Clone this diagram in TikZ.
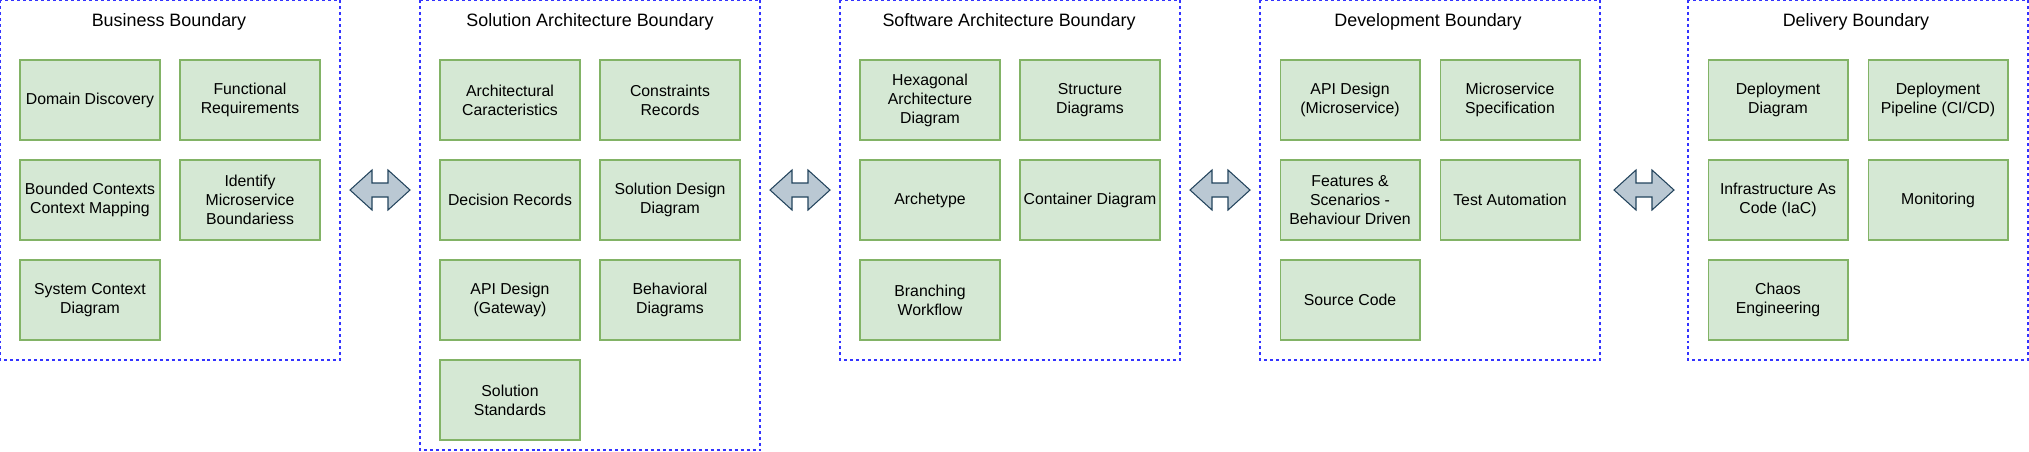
\documentclass[tikz,border=0pt]{standalone}
\usepackage{fontspec}
\setmainfont{Liberation Sans}
\definecolor{boxfill}{HTML}{D5E8D4}
\definecolor{boxline}{HTML}{82B366}
\definecolor{arrfill}{HTML}{BAC8D3}
\definecolor{arrline}{HTML}{23445D}
\definecolor{bndline}{HTML}{3333FF}
\begin{document}
\begin{tikzpicture}[x=0.02cm, y=-0.02cm,
	item/.style={draw=boxline, fill=boxfill, line width=0.6pt, minimum width=2.8cm, minimum height=1.6cm, inner sep=0pt, align=center, font=\fontsize{9}{10.8}\selectfont},
	bound/.style={draw=bndline, line width=0.6pt, dash pattern=on 1.7pt off 1.7pt},
	title/.style={font=\fontsize{10.2}{12}\selectfont, inner sep=0pt, anchor=base},
	dbl/.style={draw=arrline, fill=arrfill, line width=0.6pt, line join=miter}]
	\useasboundingbox (0,0) rectangle (2029,451);
	% boundaries
	\draw[bound] (0,0) rectangle (340,360);
	\draw[bound] (420,0) rectangle (760,450);
	\draw[bound] (840,0) rectangle (1180,360);
	\draw[bound] (1260,0) rectangle (1600,360);
	\draw[bound] (1688,0) rectangle (2028,360);
	\node[title] (tbus) at (169,26) {Business Boundary};
	\node[title] (tsol) at (590,26) {Solution Architecture Boundary};
	\node[title] (tsw) at (1009,26) {Software Architecture Boundary};
	\node[title] (tdev) at (1428,26) {Development Boundary};
	\node[title] (tdel) at (1856,26) {Delivery Boundary};
	% double arrows between boundaries
	\foreach \c in {380,800,1220,1644}
	{
		\draw[dbl] (\c-30,190)--(\c-8,170)--(\c-8,183)--(\c+8,183)--(\c+8,170)--(\c+30,190)
			--(\c+8,210)--(\c+8,197)--(\c-8,197)--(\c-8,210)--cycle;
	}
	% business
	\node[item] (domdisc) at (90,100) {Domain Discovery};
	\node[item] (funreq) at (250,100) {Functional\\Requirements};
	\node[item] (bndctx) at (90,200) {Bounded Contexts\\Context Mapping};
	\node[item] (msbound) at (250,200) {Identify\\Microservice\\Boundariess};
	\node[item] (sysctx) at (90,300) {System Context\\Diagram};
	% solution architecture
	\node[item] (archcar) at (510,100) {Architectural\\Caracteristics};
	\node[item] (constr) at (670,100) {Constraints\\Records};
	\node[item] (decrec) at (510,200) {Decision Records};
	\node[item] (soldes) at (670,200) {Solution Design\\Diagram};
	\node[item] (apigw) at (510,300) {API Design\\(Gateway)};
	\node[item] (behav) at (670,300) {Behavioral\\Diagrams};
	\node[item] (solstd) at (510,400) {Solution\\Standards};
	% software architecture
	\node[item] (hexarch) at (930,100) {Hexagonal\\Architecture\\Diagram};
	\node[item] (struct) at (1090,100) {Structure\\Diagrams};
	\node[item] (archtp) at (930,200) {Archetype};
	\node[item] (contdia) at (1090,200) {Container Diagram};
	\node[item] (branch) at (930,300) {Branching\\Workflow};
	% development
	\node[item] (apims) at (1350,100) {API Design\\(Microservice)};
	\node[item] (msspec) at (1510,100) {Microservice\\Specification};
	\node[item] (bdd) at (1350,200) {Features \&\\Scenarios -\\Behaviour Driven};
	\node[item] (testaut) at (1510,200) {Test Automation};
	\node[item] (src) at (1350,300) {Source Code};
	% delivery
	\node[item] (depdia) at (1778,100) {Deployment\\Diagram};
	\node[item] (pipe) at (1938,100) {Deployment\\Pipeline (CI/CD)};
	\node[item] (iac) at (1778,200) {Infrastructure As\\Code (IaC)};
	\node[item] (monit) at (1938,200) {Monitoring};
	\node[item] (chaos) at (1778,300) {Chaos\\Engineering};
\end{tikzpicture}
\end{document}
